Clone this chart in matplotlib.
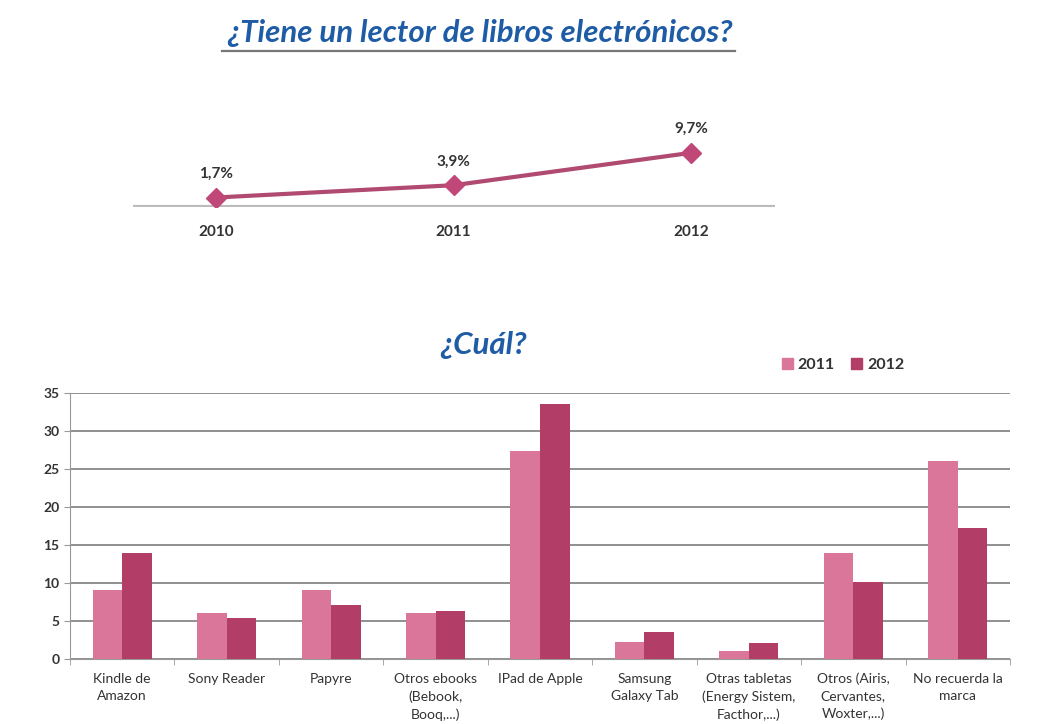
import matplotlib.pyplot as plt
import numpy as np
from matplotlib.lines import Line2D
from matplotlib.patches import Rectangle

# datos
years = ['2010', '2011', '2012']
pct_lector = [1.7, 3.9, 9.7]
pct_labels = ['1,7%', '3,9%', '9,7%']

marcas = ['Kindle de\nAmazon', 'Sony Reader', 'Papyre', 'Otros ebooks\n(Bebook,\nBooq,...)',
          'IPad de Apple', 'Samsung\nGalaxy Tab', 'Otras tabletas\n(Energy Sistem,\nFacthor,...)',
          'Otros (Airis,\nCervantes,\nWoxter,...)', 'No recuerda la\nmarca']
vals_2011 = [9.1, 6.1, 9.1, 6.0, 27.4, 2.3, 1.0, 14.0, 26.0]
vals_2012 = [14.0, 5.4, 7.1, 6.3, 33.6, 3.6, 2.1, 10.1, 17.3]

c2011 = '#d9769a'
c2012 = '#b23d66'
title_color = '#1f5ca6'
txt = '#333333'
FONT = ['Lato', 'DejaVu Sans']

fig = plt.figure(figsize=(10.4, 7.24), dpi=100)
fig.patch.set_facecolor('white')

# titulo superior
fig.text(0.462, 0.954, '¿Tiene un lector de libros electrónicos?', ha='center', va='center',
         fontsize=22.5, fontweight='bold', fontstyle='italic', color=title_color, family=FONT)
fig.add_artist(Line2D([222 / 1040, 735 / 1040], [1 - 51 / 724, 1 - 51 / 724],
                      color='#777777', lw=1.6))

# grafico de linea
ax1 = fig.add_axes([133 / 1040, 1 - 207 / 724, 642 / 1040, 67 / 724])
x = np.arange(len(years))
ax1.plot(x, pct_lector, color='#b04a70', lw=3, marker='D', markersize=10,
         markerfacecolor='#c04878', markeredgecolor='#c04878', zorder=3)
for xi, v, lab in zip(x, pct_lector, pct_labels):
    ax1.annotate(lab, (xi, v), xytext=(0, 12), textcoords='offset points', ha='center',
                 va='bottom', fontsize=11, color=txt, family=FONT, fontweight='bold')
ax1.axhline(0, color='#bbbbbb', lw=3, zorder=1)
ax1.set_xlim(-0.35, 2.354)
ax1.set_ylim(0, 12)
ax1.set_xticks(x)
ax1.set_xticklabels(years, fontsize=11, color=txt, family=FONT, fontweight='bold')
ax1.tick_params(axis='x', length=0, pad=13)
ax1.set_yticks([])
for s in ax1.spines.values():
    s.set_visible(False)
ax1.patch.set_alpha(0)

# titulo inferior
fig.text(0.465, 0.524, '¿Cuál?', ha='center', va='center', fontsize=22.5,
         fontweight='bold', fontstyle='italic', color=title_color, family=FONT)

# grafico de barras
ax2 = fig.add_axes([70 / 1040, 1 - 659 / 724, 940 / 1040, 266 / 724])
xb = np.arange(len(marcas))
w = 0.283
ax2.bar(xb - w / 2, vals_2011, w, color=c2011, label='2011', zorder=3)
ax2.bar(xb + w / 2, vals_2012, w, color=c2012, label='2012', zorder=3)
ax2.set_xlim(-0.5, len(marcas) - 0.5)
ax2.set_ylim(0, 35)
ax2.set_yticks(range(0, 36, 5))
ax2.yaxis.grid(True, color='#8f8f8f', lw=1.4, zorder=0)
ax2.set_axisbelow(True)
ax2.set_xticks(xb)
ax2.set_xticklabels(marcas, fontsize=10, color=txt, family=FONT, linespacing=1.5)
ax2.set_xticks(np.arange(-0.5, len(marcas)), minor=True)
ax2.tick_params(axis='x', which='major', length=0, pad=10)
ax2.tick_params(axis='x', which='minor', length=4, color='#999999')
ax2.tick_params(axis='y', length=4, color='#999999', labelsize=10, labelcolor=txt)
for lab in ax2.get_yticklabels():
    lab.set_family(FONT)
    lab.set_fontweight('bold')
for s in ['top', 'right']:
    ax2.spines[s].set_visible(False)
ax2.spines['left'].set_color('#999999')
ax2.spines['bottom'].set_color('#999999')

leg = fig.legend(handles=[Rectangle((0, 0), 1, 1, color=c2011), Rectangle((0, 0), 1, 1, color=c2012)],
                 labels=['2011', '2012'], loc='center', bbox_to_anchor=(843 / 1040, 1 - 365 / 724),
                 ncol=2, frameon=False, handlelength=0.7, handleheight=0.7, handletextpad=0.3,
                 columnspacing=1.0, prop={'family': FONT, 'size': 11.5, 'weight': 'bold'})
for t in leg.get_texts():
    t.set_color(txt)

fig.savefig('out.png', dpi=100)
